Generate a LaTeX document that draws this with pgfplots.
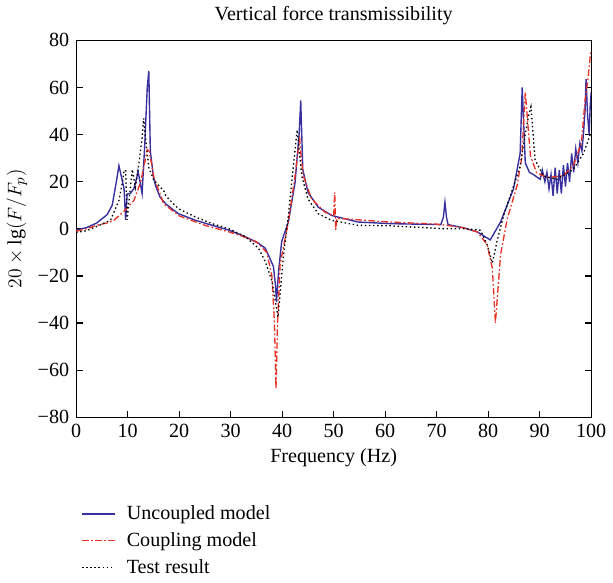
\documentclass[border=0pt]{standalone}
\usepackage{fontspec}
\setmainfont{Liberation Serif}
\usepackage{pgfplots}
\pgfplotsset{compat=1.18}
\definecolor{cblue}{RGB}{56,48,158}
\definecolor{cred}{RGB}{232,48,36}
\begin{document}
\fontsize{12.3}{14.5}\selectfont
\begin{tikzpicture}
\begin{axis}[
  scale only axis,
  width=315pt, height=230.5pt,
  xmin=0, xmax=100, ymin=-80, ymax=80,
  xtick={0,10,...,100}, ytick={-80,-60,...,80},
  yticklabels={−80,−60,−40,−20,0,20,40,60,80},
  tick align=inside,
  xtick pos=bottom,
  ytick pos=both,
  major tick length=4pt,
  axis line style={line width=0.8pt},
  tick style={line width=0.8pt, black},
  /pgf/number format/assume math mode=true,
  ticklabel style={font=\fontsize{12.3}{14}\selectfont},
  title={Vertical force transmissibility},
  title style={font=\fontsize{12.3}{14}\selectfont, yshift=-1pt},
  xlabel={Frequency (Hz)},
  ylabel={$20\times\mathrm{lg}(F/F_{p})$},
  xlabel style={font=\fontsize{12.3}{14}\selectfont, yshift=2pt},
  ylabel style={font=\fontsize{12.3}{14}\selectfont, yshift=-2pt},
  legend style={at={(0,-0.216)}, anchor=north west, draw=none, fill=none,
    font=\fontsize{12.3}{14}\selectfont, row sep=2pt,
    legend cell align=left},
  legend image code/.code={\draw[#1] (0cm,0cm) -- (0.7cm,0cm);},
]
\addplot[color=cblue, line width=0.85pt] coordinates {
(0,-0.5) (2,0.5) (4,2.5) (6,6) (7,10) (7.8,20) (8.3,26.8) (8.8,22) (9.3,17)
(9.6,3.8) (9.9,14.8) (10.5,15) (11.2,17) (11.8,22) (12.0,24.5) (12.4,20) (12.8,15)
(13.3,35) (13.8,60) (14.1,67) (14.4,33) (15.0,22) (15.4,18.4) (16.3,13.4) (17.4,10.6)
(18.9,8) (19.9,6.4) (23.2,3.6) (26.4,1.5) (29.6,-0.5) (32.8,-3.3) (35.4,-6.1)
(36.7,-8.2) (37.3,-11) (38.3,-16) (38.7,-24) (38.9,-31) (39.3,-18) (39.9,-5.4)
(41.2,2.9) (42.5,19.7) (43.3,40.6) (43.6,54.5) (44.0,25.2) (45.0,15.5) (47.0,9.2)
(49.6,5.7) (52.1,4.3) (54.7,2.9) (61.1,2.2) (70.8,1.8) (71.3,5) (71.6,11.3) (71.9,5)
(72.2,1.8) (75.3,0.4) (77.9,-1.3) (80.4,-4.7) (82.4,2.9) (84.9,16.9) (86.2,32)
(86.6,60) (87.2,28) (88.0,24) (88.8,23) (90.1,21) (90.5,25) (91.0,20) (91.4,24)
(91.8,17) (92.2,23) (92.6,14) (93.0,26) (93.4,15) (93.8,25) (94.2,15) (94.6,27)
(95.0,18) (95.4,28) (95.8,20) (96.2,32) (96.6,24) (97.0,34) (97.4,28) (97.8,36.4)
(98.2,33) (98.5,40.6) (98.8,50) (99.0,63.6) (99.3,48) (99.6,40) (99.8,52) (100,58)
};
\addlegendentry{\hspace{5pt}Uncoupled model}
\addplot[color=cred, line width=0.8pt, dash pattern=on 4pt off 1.5pt on 1pt off 1.5pt] coordinates {
(0,-1) (2,0) (4,1.5) (6,2.5) (7.3,3.6) (9.3,7.5) (11.2,12) (12.5,19.7) (13.3,28)
(13.8,33.6) (14.2,33) (15.1,21.8) (17.0,10.6) (20,5.5) (25,1.5) (30,-1.5) (33,-3.7)
(35,-5.5) (37,-10) (38,-20) (38.5,-40) (38.8,-68) (39.1,-40) (39.6,-15) (41.2,2.9)
(42.5,22.5) (43.1,33.6) (43.4,38) (43.7,30) (44.1,22.5) (45.7,12.7) (48.3,7.1)
(50.0,5.5) (50.2,15.5) (50.4,-0.5) (50.6,4.5) (55,3.8) (60,3) (65,2.5) (70,2)
(72,1.5) (75,0.5) (77.9,-1.3) (79.8,-6.8) (80.8,-16.6) (81.4,-40) (82.4,-11)
(83.7,4.3) (85.6,18.3) (86.5,30) (87.2,58) (88.2,31) (89.4,23.8) (91.4,21.8)
(94.6,22.5) (96.5,26.8) (98.1,36.4) (98.8,54.5) (99.4,64) (99.9,75.4)
};
\addlegendentry{\hspace{5pt}Coupling model}
\addplot[color=black, line width=0.8pt, dash pattern=on 0.9pt off 1.6pt] coordinates {
(0,-1.5) (2,-0.8) (4,1) (6,3) (6.7,3.8) (8.3,12) (9.0,20) (9.3,24.5) (9.6,25)
(9.9,3.8) (10.4,15) (10.9,25.2) (11.5,17.6) (12.2,28) (12.8,38.5) (13.1,46.9)
(13.5,38) (14.1,26) (15.1,20.5) (17.0,16.2) (17.4,14) (18.9,10.6) (19.9,8.5)
(23.2,5) (26.4,2.2) (29.6,0.1) (32.8,-3.3) (35.4,-8.2) (36.7,-13.8) (38.0,-22)
(39.2,-37.5) (40.2,-12.4) (41.2,5.7) (42.1,25.2) (42.9,42) (43.8,22.5) (45.0,12.7)
(47.0,6.4) (49.6,3.6) (54.7,1.5) (61.1,1.3) (70.8,0.1) (75.3,0.1) (78.5,-0.6)
(79.8,-6.8) (80.8,-14.5) (81.7,-5.4) (83.0,5.7) (84.9,18) (86.2,26.6) (86.9,36.4)
(87.8,47.6) (88.3,51.8) (89.1,29.4) (90.7,22.5) (93.3,21) (96.5,25.2) (98.5,32)
(99.9,40.6)
};
\addlegendentry{\hspace{5pt}Test result}
\end{axis}
\end{tikzpicture}
\end{document}
